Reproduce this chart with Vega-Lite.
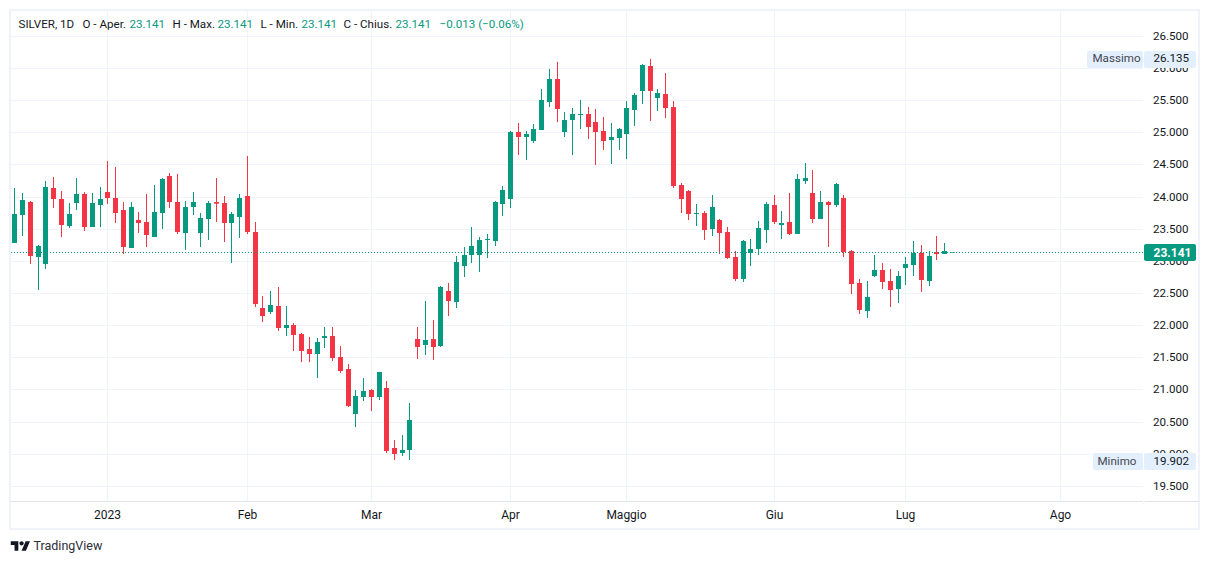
{"$schema":"https://vega.github.io/schema/vega-lite/v6.json","autosize":{"type":"none"},"width":1132,"height":490,"padding":{"left":10.5,"top":11,"right":66.5,"bottom":63},"background":"white","view":{"stroke":null},
"config":{"font":"Roboto"},
"datasets":{
"ohlc":[
{"i":0,"open":23.279,"high":24.134,"low":23.279,"close":23.730},{"i":1,"open":23.714,"high":24.056,"low":23.387,"close":23.947},{"i":2,"open":23.916,"high":23.932,"low":22.952,"close":23.076},{"i":3,"open":23.061,"high":23.248,"low":22.548,"close":23.232},{"i":4,"open":22.952,"high":24.243,"low":22.874,"close":24.150},{"i":5,"open":24.134,"high":24.305,"low":23.823,"close":23.963},{"i":6,"open":23.963,"high":24.087,"low":23.372,"close":23.559},{"i":7,"open":23.543,"high":23.901,"low":23.512,"close":23.730},{"i":8,"open":23.901,"high":24.289,"low":23.792,"close":24.041},{"i":9,"open":24.041,"high":24.072,"low":23.465,"close":23.527},
{"i":10,"open":23.527,"high":24.056,"low":23.527,"close":23.901},{"i":11,"open":23.870,"high":24.150,"low":23.527,"close":23.963},{"i":12,"open":24.072,"high":24.554,"low":23.885,"close":23.978},{"i":13,"open":23.978,"high":24.461,"low":23.590,"close":23.745},{"i":14,"open":23.792,"high":23.916,"low":23.108,"close":23.216},{"i":15,"open":23.201,"high":23.916,"low":23.201,"close":23.838},{"i":16,"open":23.636,"high":23.761,"low":23.434,"close":23.590},{"i":17,"open":23.605,"high":24.041,"low":23.216,"close":23.403},{"i":18,"open":23.372,"high":24.181,"low":23.372,"close":23.761},{"i":19,"open":23.745,"high":24.289,"low":23.496,"close":24.274},
{"i":20,"open":24.321,"high":24.367,"low":23.823,"close":23.916},{"i":21,"open":23.916,"high":24.352,"low":23.419,"close":23.450},{"i":22,"open":23.434,"high":23.932,"low":23.170,"close":23.838},{"i":23,"open":23.838,"high":24.072,"low":23.714,"close":23.916},{"i":24,"open":23.434,"high":23.745,"low":23.216,"close":23.667},{"i":25,"open":23.652,"high":23.932,"low":23.325,"close":23.901},{"i":26,"open":23.916,"high":24.289,"low":23.605,"close":23.901},{"i":27,"open":23.901,"high":24.010,"low":23.294,"close":23.590},{"i":28,"open":23.590,"high":23.761,"low":22.968,"close":23.730},{"i":29,"open":23.683,"high":24.041,"low":23.356,"close":23.978},
{"i":30,"open":24.010,"high":24.632,"low":23.419,"close":23.450},{"i":31,"open":23.450,"high":23.605,"low":22.283,"close":22.330},{"i":32,"open":22.267,"high":22.454,"low":22.050,"close":22.143},{"i":33,"open":22.205,"high":22.532,"low":22.174,"close":22.314},{"i":34,"open":22.299,"high":22.594,"low":21.910,"close":21.956},{"i":35,"open":21.956,"high":22.299,"low":21.832,"close":22.003},{"i":36,"open":22.003,"high":22.034,"low":21.599,"close":21.848},{"i":37,"open":21.863,"high":21.879,"low":21.428,"close":21.599},{"i":38,"open":21.630,"high":21.816,"low":21.428,"close":21.552},{"i":39,"open":21.552,"high":21.801,"low":21.179,"close":21.739},
{"i":40,"open":21.801,"high":21.972,"low":21.645,"close":21.832},{"i":41,"open":21.832,"high":21.972,"low":21.443,"close":21.490},{"i":42,"open":21.505,"high":21.676,"low":21.257,"close":21.288},{"i":43,"open":21.319,"high":21.397,"low":20.728,"close":20.743},{"i":44,"open":20.619,"high":20.992,"low":20.417,"close":20.899},{"i":45,"open":20.883,"high":21.179,"low":20.821,"close":20.977},{"i":46,"open":20.992,"high":21.008,"low":20.666,"close":20.883},{"i":47,"open":20.883,"high":21.272,"low":20.837,"close":21.272},{"i":48,"open":21.023,"high":21.132,"low":20.012,"close":20.043},{"i":49,"open":20.090,"high":20.215,"low":19.904,"close":19.997},
{"i":50,"open":20.012,"high":20.292,"low":19.966,"close":20.059},{"i":51,"open":20.059,"high":20.790,"low":19.902,"close":20.526},{"i":52,"open":21.785,"high":21.972,"low":21.474,"close":21.661},{"i":53,"open":21.692,"high":22.376,"low":21.536,"close":21.770},{"i":54,"open":21.785,"high":22.081,"low":21.459,"close":21.661},{"i":55,"open":21.676,"high":22.610,"low":21.661,"close":22.594},{"i":56,"open":22.532,"high":22.656,"low":22.143,"close":22.376},{"i":57,"open":22.361,"high":23.076,"low":22.267,"close":22.983},{"i":58,"open":22.921,"high":23.216,"low":22.750,"close":23.092},{"i":59,"open":23.092,"high":23.527,"low":22.967,"close":23.232},
{"i":60,"open":23.092,"high":23.372,"low":22.827,"close":23.325},{"i":61,"open":23.325,"high":23.418,"low":23.045,"close":23.341},{"i":62,"open":23.310,"high":23.932,"low":23.232,"close":23.916},{"i":63,"open":23.885,"high":24.165,"low":23.698,"close":24.103},{"i":64,"open":23.963,"high":25.020,"low":23.823,"close":25.005},{"i":65,"open":25.005,"high":25.145,"low":24.647,"close":24.927},{"i":66,"open":24.927,"high":25.020,"low":24.569,"close":24.974},{"i":67,"open":24.865,"high":25.129,"low":24.834,"close":25.051},{"i":68,"open":25.036,"high":25.673,"low":25.036,"close":25.502},{"i":69,"open":25.471,"high":25.985,"low":25.394,"close":25.829},
{"i":70,"open":25.829,"high":26.093,"low":25.160,"close":25.362},{"i":71,"open":25.005,"high":25.316,"low":24.927,"close":25.191},{"i":72,"open":25.191,"high":25.378,"low":24.647,"close":25.285},{"i":73,"open":25.269,"high":25.502,"low":25.051,"close":25.285},{"i":74,"open":25.285,"high":25.394,"low":24.896,"close":25.082},{"i":75,"open":25.160,"high":25.362,"low":24.492,"close":25.005},{"i":76,"open":25.020,"high":25.238,"low":24.725,"close":24.865},{"i":77,"open":24.880,"high":25.145,"low":24.507,"close":24.927},{"i":78,"open":24.911,"high":25.067,"low":24.725,"close":25.051},{"i":79,"open":24.974,"high":25.487,"low":24.585,"close":25.378},
{"i":80,"open":25.347,"high":25.611,"low":25.098,"close":25.580},{"i":81,"open":25.642,"high":26.062,"low":25.440,"close":26.047},{"i":82,"open":26.031,"high":26.135,"low":25.176,"close":25.642},{"i":83,"open":25.533,"high":25.673,"low":25.331,"close":25.611},{"i":84,"open":25.596,"high":25.922,"low":25.222,"close":25.378},{"i":85,"open":25.394,"high":25.487,"low":24.134,"close":24.165},{"i":86,"open":24.180,"high":24.212,"low":23.745,"close":23.963},{"i":87,"open":24.087,"high":24.103,"low":23.636,"close":23.730},{"i":88,"open":23.730,"high":23.885,"low":23.543,"close":23.745},{"i":89,"open":23.745,"high":23.776,"low":23.325,"close":23.481},
{"i":90,"open":23.496,"high":24.025,"low":23.387,"close":23.838},{"i":91,"open":23.636,"high":23.652,"low":23.108,"close":23.434},{"i":92,"open":23.450,"high":23.527,"low":23.030,"close":23.045},{"i":93,"open":23.061,"high":23.154,"low":22.688,"close":22.719},{"i":94,"open":22.719,"high":23.325,"low":22.672,"close":23.310},{"i":95,"open":23.123,"high":23.341,"low":22.921,"close":23.185},{"i":96,"open":23.185,"high":23.621,"low":23.092,"close":23.512},{"i":97,"open":23.481,"high":23.916,"low":23.279,"close":23.885},{"i":98,"open":23.870,"high":24.025,"low":23.574,"close":23.605},{"i":99,"open":23.559,"high":23.776,"low":23.341,"close":23.590},
{"i":100,"open":23.605,"high":24.056,"low":23.403,"close":23.419},{"i":101,"open":23.419,"high":24.352,"low":23.419,"close":24.274},{"i":102,"open":24.243,"high":24.523,"low":24.196,"close":24.290},{"i":103,"open":24.056,"high":24.414,"low":23.590,"close":23.652},{"i":104,"open":23.652,"high":24.087,"low":23.652,"close":23.916},{"i":105,"open":23.916,"high":23.932,"low":23.216,"close":23.870},{"i":106,"open":23.870,"high":24.212,"low":23.839,"close":24.196},{"i":107,"open":23.979,"high":24.025,"low":23.061,"close":23.139},{"i":108,"open":23.154,"high":23.170,"low":22.486,"close":22.641},{"i":109,"open":22.657,"high":22.719,"low":22.174,"close":22.237},
{"i":110,"open":22.221,"high":22.688,"low":22.112,"close":22.439},{"i":111,"open":22.765,"high":23.092,"low":22.750,"close":22.859},{"i":112,"open":22.859,"high":22.968,"low":22.563,"close":22.672},{"i":113,"open":22.688,"high":22.874,"low":22.283,"close":22.548},{"i":114,"open":22.563,"high":22.843,"low":22.346,"close":22.765},{"i":115,"open":22.890,"high":23.061,"low":22.625,"close":22.952},{"i":116,"open":22.937,"high":23.310,"low":22.765,"close":23.123},{"i":117,"open":23.123,"high":23.248,"low":22.517,"close":22.703},{"i":118,"open":22.688,"high":23.154,"low":22.610,"close":23.077},{"i":119,"open":23.139,"high":23.388,"low":23.014,"close":23.108},
{"i":120,"open":23.108,"high":23.279,"low":23.108,"close":23.154},{"i":121,"open":23.141,"high":23.141,"low":23.141,"close":23.141}
],
"badges":[
{"x":138.3,"x2":145.5,"y":26.264,"y2":26.004},{"x":145.71,"x2":152.39,"y":26.264,"y2":26.004},
{"x":139.1,"x2":145.5,"y":20.013,"y2":19.749},{"x":145.71,"x2":152.39,"y":20.013,"y2":19.749}
],
"dark":[
{"x":0.47,"y":26.669,"t":"SILVER, 1D"},{"x":8.69,"y":26.669,"t":"O - Aper."},{"x":20.39,"y":26.669,"t":"H - Max."},{"x":31.7,"y":26.669,"t":"L - Min."},{"x":42.46,"y":26.669,"t":"C - Chius."},
{"x":147,"y":26.132,"t":"26.135"},{"x":147,"y":19.88,"t":"19.902"}
],
"grey":[
{"x":139.05,"y":26.132,"t":"Massimo"},{"x":139.75,"y":19.88,"t":"Minimo"}
],
"green":[
{"x":14.84,"y":26.669,"t":"23.141"},{"x":26.12,"y":26.669,"t":"23.141"},{"x":36.96,"y":26.669,"t":"23.141"},{"x":49.17,"y":26.669,"t":"23.141"},{"x":54.81,"y":26.669,"t":"−0.013 (−0.06%)"}
]
},
"data":{"name":"ohlc"},
"layer":[
{"data":{"values":[{"x":-0.555,"x2":152.9,"y":26.902,"y2":18.83}]},
 "mark":{"type":"rect","fill":"transparent","stroke":"#f0f3fa","strokeWidth":2,"xOffset":-0.5,"x2Offset":-0.5},
 "encoding":{
  "x":{"field":"x","type":"quantitative","title":null,"scale":{"domain":[-0.5614,145.54],"nice":false,"zero":false,"padding":0,"round":true},
   "axis":{"values":[12,30,46,64,79,98,115,135],"labelExpr":"{12:'2023',30:'Feb',46:'Mar',64:'Apr',79:'Maggio',98:'Giu',115:'Lug',135:'Ago'}[datum.value]","grid":true,"gridColor":"#f0f3fa","ticks":false,"domain":false,"translate":0,"labelColor":"#131722","labelFontSize":12,"labelPadding":9,"labelFont":"Roboto","labelOverlap":false}},
  "x2":{"field":"x2"},
  "y":{"field":"y","type":"quantitative","title":null,"scale":{"domain":[19.266,26.886],"nice":false,"zero":false,"padding":0,"round":true},
   "axis":{"orient":"right","values":[19.5,20,20.5,21,21.5,22,22.5,23,23.5,24,24.5,25,25.5,26,26.5],"tickCount":20,"format":".3f","grid":true,"gridColor":"#f0f3fa","ticks":false,"domain":false,"labelColor":"#131722","labelFontSize":11.6,"labelPadding":10,"labelFont":"Roboto","labelOverlap":false}},
  "y2":{"field":"y2"}}},
{"data":{"values":[{"x":-0.5614,"x2":145.54,"y":19.266},{"x":145.85,"x2":152.9,"y":19.266}]},
 "mark":{"type":"rule","color":"#e0e3eb","strokeWidth":1,"yOffset":0.5},
 "encoding":{"x":{"field":"x","type":"quantitative"},"x2":{"field":"x2"},"y":{"field":"y","type":"quantitative"}}},
{"mark":{"type":"rule","strokeWidth":1},
 "encoding":{"x":{"field":"i","type":"quantitative"},"y":{"field":"low","type":"quantitative"},"y2":{"field":"high"},
  "color":{"condition":{"test":"datum.close>=datum.open","value":"#089981"},"value":"#f23645"}}},
{"mark":{"type":"bar","size":5,"orient":"vertical"},
 "encoding":{"x":{"field":"i","type":"quantitative"},"y":{"field":"open","type":"quantitative"},"y2":{"field":"close"},
  "color":{"condition":{"test":"datum.close>=datum.open","value":"#089981"},"value":"#f23645"}}},
{"transform":[{"filter":"abs(datum.open-datum.close)<0.02"}],
 "mark":{"type":"tick","orient":"horizontal","size":5,"thickness":1,"yOffset":0.5},
 "encoding":{"x":{"field":"i","type":"quantitative"},"y":{"field":"close","type":"quantitative"},
  "color":{"condition":{"test":"datum.close>=datum.open","value":"#089981"},"value":"#f23645"}}},
{"data":{"values":[{"x":-0.5614,"x2":145.54,"y":23.141}]},
 "mark":{"type":"rule","color":"#089981","strokeWidth":1,"strokeDash":[1,2],"yOffset":0.5,"xOffset":0.5,"x2Offset":0.5},
 "encoding":{"x":{"field":"x","type":"quantitative"},"x2":{"field":"x2"},"y":{"field":"y","type":"quantitative"}}},
{"data":{"name":"badges"},
 "mark":{"type":"rect","fill":"#e3effd","cornerRadius":2,"xOffset":0.5,"x2Offset":0.5},
 "encoding":{"x":{"field":"x","type":"quantitative"},"x2":{"field":"x2"},"y":{"field":"y","type":"quantitative"},"y2":{"field":"y2"}}},
{"data":{"values":[{"x":145.71,"x2":152.39,"y":23.263,"y2":23.0}]},
 "mark":{"type":"rect","fill":"#089981","cornerRadius":2,"xOffset":0.5,"x2Offset":0.5},
 "encoding":{"x":{"field":"x","type":"quantitative"},"x2":{"field":"x2"},"y":{"field":"y","type":"quantitative"},"y2":{"field":"y2"}}},
{"data":{"values":[{"x":147,"y":23.13,"t":"23.141"}]},
 "mark":{"type":"text","align":"left","baseline":"middle","font":"Roboto","fontSize":12,"fontWeight":"bold","color":"#ffffff"},
 "encoding":{"x":{"field":"x","type":"quantitative"},"y":{"field":"y","type":"quantitative"},"text":{"field":"t"}}},
{"data":{"name":"dark"},
 "mark":{"type":"text","align":"left","baseline":"middle","font":"Roboto","fontSize":11.6,"color":"#131722"},
 "encoding":{"x":{"field":"x","type":"quantitative"},"y":{"field":"y","type":"quantitative"},"text":{"field":"t"}}},
{"data":{"name":"grey"},
 "mark":{"type":"text","align":"left","baseline":"middle","font":"Roboto","fontSize":11.6,"color":"#434651"},
 "encoding":{"x":{"field":"x","type":"quantitative"},"y":{"field":"y","type":"quantitative"},"text":{"field":"t"}}},
{"data":{"name":"green"},
 "mark":{"type":"text","align":"left","baseline":"middle","font":"Roboto","fontSize":11.6,"color":"#089981"},
 "encoding":{"x":{"field":"x","type":"quantitative"},"y":{"field":"y","type":"quantitative"},"text":{"field":"t"}}},
{"data":{"values":[{"x":2.4,"y":18.566,"t":"TradingView"}]},
 "mark":{"type":"text","align":"left","baseline":"middle","font":"Roboto","fontSize":12.5,"color":"#2a2e39"},
 "encoding":{"x":{"field":"x","type":"quantitative"},"y":{"field":"y","type":"quantitative"},"text":{"field":"t"}}},
{"data":{"values":[{"x":0.7,"y":18.566}]},
 "mark":{"type":"point","filled":true,"size":380,"opacity":1,"color":"#131722","shape":"M-0.222 0.5 L-0.611 0.5 L-0.611 -0.111 L-1 -0.111 L-1 -0.5 L-0.222 -0.5 Z M0.556 0.5 L0.111 0.5 L0.528 -0.5 L0.972 -0.5 Z M0.333 -0.278 A0.222 0.222 0 1 1 -0.111 -0.278 A0.222 0.222 0 1 1 0.333 -0.278 Z"},
 "encoding":{"x":{"field":"x","type":"quantitative"},"y":{"field":"y","type":"quantitative"}}}
]}
